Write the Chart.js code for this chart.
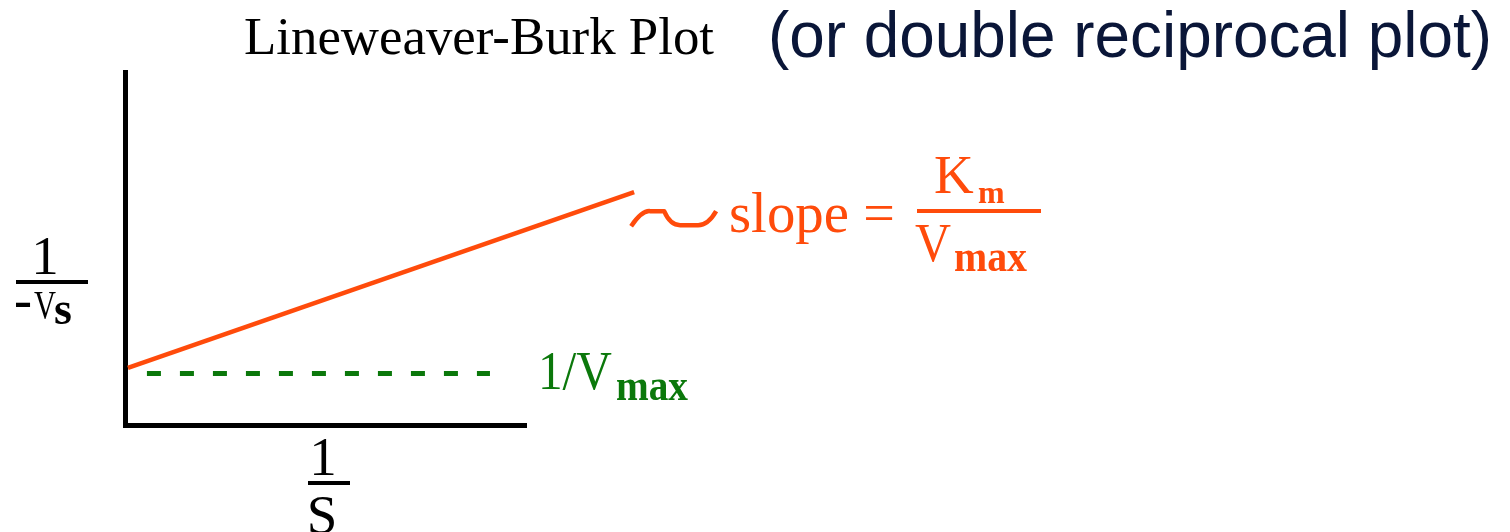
<!DOCTYPE html>
<html>
<head>
<meta charset="utf-8">
<title>Lineweaver-Burk Plot</title>
<script src="https://cdn.jsdelivr.net/npm/chart.js@4/dist/chart.umd.min.js"></script>
<style>
  html, body { margin: 0; padding: 0; background: #ffffff; }
  canvas { display: block; }
</style>
</head>
<body>
<canvas id="lb" width="1510" height="532"></canvas>
<script>
// Reciprocal line: 1/v against 1/[S]
const slopeX = [0.06, 12.7];
const slopeY = [1.63, 6.61];

// Level of the y-intercept, 1/Vmax
const interceptX = [0.535, 9.1];
const interceptY = [1.47, 1.47];

// Axis ranges (no tick labels are shown)
const xRange = [0, 10];
const yRange = [0, 10];

const ORANGE = '#ff4b0b';
const GREEN = '#0b780b';
const NAVY = '#0a1638';
const SERIF = "'Liberation Serif', 'DejaVu Serif', serif";
const SANS = "'Liberation Sans', Arial, sans-serif";

const toPoints = (xs, ys) => xs.map((x, i) => ({ x, y: ys[i] }));

function text(ctx, str, x, y, font, color, align, maxWidth) {
  ctx.font = font;
  ctx.fillStyle = color;
  ctx.textAlign = align || 'left';
  ctx.textBaseline = 'alphabetic';
  if (maxWidth) ctx.fillText(str, x, y, maxWidth);
  else ctx.fillText(str, x, y);
}

// Text stretched horizontally to a given width
function stretched(ctx, str, x, y, font, color, width) {
  ctx.save();
  ctx.font = font;
  const w = ctx.measureText(str).width;
  ctx.translate(x, y);
  ctx.scale(width / w, 1);
  ctx.fillStyle = color;
  ctx.textAlign = 'left';
  ctx.textBaseline = 'alphabetic';
  ctx.fillText(str, 0, 0);
  ctx.restore();
}

const labels = {
  id: 'labels',
  afterDraw(chart) {
    const ctx = chart.ctx;
    const xs = chart.scales.x, ys = chart.scales.y;
    ctx.save();

    // Heading
    stretched(ctx, 'Lineweaver-Burk Plot', 244, 54, '52px ' + SERIF, '#000', 470);
    text(ctx, '(or double reciprocal plot)', 768, 57, '64px ' + SANS, NAVY, 'left', 724);

    // y-axis label: 1 / -Vs
    text(ctx, '1', 45, 274, '55px ' + SERIF, '#000', 'center');
    ctx.fillStyle = '#000';
    ctx.fillRect(16, 280, 72, 4);
    stretched(ctx, '-', 14, 318, '56px ' + SERIF, '#000', 18);
    stretched(ctx, 'V', 34, 318, '40px ' + SERIF, '#000', 22);
    text(ctx, 's', 54, 324, 'bold 46px ' + SERIF, '#000', 'left', 22);

    // x-axis label: 1 / S
    text(ctx, '1', 323, 475, '55px ' + SERIF, '#000', 'center');
    ctx.fillStyle = '#000';
    ctx.fillRect(308, 481, 42, 4);
    text(ctx, 'S', 322, 533, '55px ' + SERIF, '#000', 'center');

    // 1/Vmax beside the dashed level
    const gx = xs.getPixelForValue(interceptX[1]);
    text(ctx, '1/V', gx + 48, 389, '55px ' + SERIF, GREEN, 'left', 74);
    text(ctx, 'max', gx + 126, 400, 'bold 44px ' + SERIF, GREEN, 'left', 72);

    // Connector from the end of the line to the slope label
    const ex = xs.getPixelForValue(slopeX[1]);
    const ey = ys.getPixelForValue(slopeY[1]);
    ctx.strokeStyle = ORANGE;
    ctx.lineWidth = 4.5;
    ctx.lineCap = 'butt';
    ctx.lineJoin = 'round';
    ctx.beginPath();
    ctx.moveTo(ex - 3, ey + 34);
    ctx.quadraticCurveTo(ex + 8, ey + 18, ex + 16, ey + 19);
    ctx.lineTo(ex + 30, ey + 19);
    ctx.quadraticCurveTo(ex + 36, ey + 33, ex + 46, ey + 33);
    ctx.lineTo(ex + 64, ey + 33);
    ctx.quadraticCurveTo(ex + 74, ey + 33, ex + 82, ey + 19);
    ctx.stroke();

    // slope = Km / Vmax
    text(ctx, 'slope', 729, 232, '57px ' + SERIF, ORANGE, 'left', 120);
    text(ctx, '=', 879, 232, '56px ' + SERIF, ORANGE, 'center');
    ctx.fillStyle = ORANGE;
    ctx.fillRect(917, 209, 124, 4);
    text(ctx, 'K', 934, 193, '55px ' + SERIF, ORANGE, 'left', 40);
    text(ctx, 'm', 978, 203, 'bold 32px ' + SERIF, ORANGE, 'left', 34);
    text(ctx, 'V', 915, 261, '55px ' + SERIF, ORANGE, 'left', 36);
    text(ctx, 'max', 954, 271, 'bold 44px ' + SERIF, ORANGE, 'left', 73);

    ctx.restore();
  }
};

const axisOpts = (range) => ({
  type: 'linear',
  min: range[0],
  max: range[1],
  grid: { display: false },
  ticks: { display: false },
  border: { display: true, width: 5, color: '#000' }
});

new Chart(document.getElementById('lb'), {
  type: 'line',
  data: {
    datasets: [
      {
        label: 'slope',
        data: toPoints(slopeX, slopeY),
        borderColor: ORANGE,
        borderWidth: 4.5,
        pointRadius: 0,
        clip: false
      },
      {
        label: 'intercept',
        data: toPoints(interceptX, interceptY),
        borderColor: GREEN,
        borderWidth: 5,
        borderDash: [14, 19],
        borderCapStyle: 'butt',
        pointRadius: 0,
        clip: false
      }
    ]
  },
  options: {
    responsive: false,
    devicePixelRatio: 1,
    animation: false,
    layout: { padding: { left: 117.5, top: 72.5, right: 984, bottom: 98.5 } },
    plugins: { legend: { display: false }, tooltip: { enabled: false }, title: { display: false } },
    scales: { x: axisOpts(xRange), y: axisOpts(yRange) }
  },
  plugins: [labels]
});
</script>
</body>
</html>
